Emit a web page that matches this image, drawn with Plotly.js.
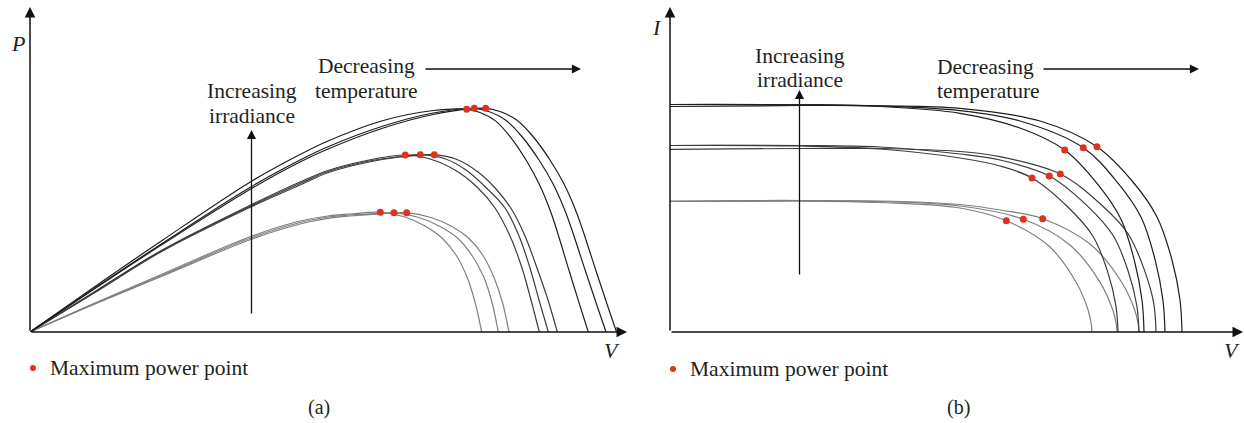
<!DOCTYPE html>
<html>
<head>
<meta charset="utf-8">
<script src="https://cdn.plot.ly/plotly-3.0.1.min.js"></script>
<style>html,body{margin:0;padding:0;background:#fff;}#chart{width:1244px;height:423px;}</style>
</head>
<body>
<div id="chart"></div>
<script>
// ---------- Panel (a): P–V curves (arbitrary units) ----------
// High irradiance (hot, mid, cold)
const pvV_hi_hot  = [0, 65, 131.3, 220.7, 270, 298, 353.3, 403.3, 436.7, 450, 465.5, 480.7, 496.5, 509.5, 521.3, 539.9, 550.4, 558.3];
const pvP_hi_hot  = [0, 45.5, 91, 150.3, 177.5, 191, 211.5, 221.5, 222.7, 219.5, 211.1, 194.6, 171.2, 147.3, 118.5, 58.7, 24.9, 0];
const pvV_hi_mid  = [0, 65, 131.3, 220.7, 270, 298, 353.3, 403.3, 444.3, 458.7, 475.5, 491.9, 509, 523.1, 535.9, 556.1, 567.5, 576];
const pvP_hi_mid  = [0, 44, 88, 145, 172, 185.3, 206, 219, 223.7, 220.5, 212, 195.5, 172, 148, 119, 59, 25, 0];
const pvV_hi_cold = [0, 65, 131.3, 220.7, 270, 298, 353.3, 403.3, 455.7, 470, 486.7, 503, 520, 534, 546.7, 566.7, 578, 586.5];
const pvP_hi_cold = [0, 43.5, 87, 143, 170, 183, 204, 217.5, 223.7, 220.5, 212, 195.5, 172, 148, 119, 59, 25, 0];
// Medium irradiance
const pvV_md_hot  = [0, 65, 131.3, 220.7, 270, 298, 336.7, 375.3, 400, 425, 447, 465, 480, 492, 501, 509.3];
const pvP_md_hot  = [0, 40.5, 81.5, 127, 150, 161.5, 171.5, 177, 173, 162, 145, 124, 96, 64, 32, 0];
const pvV_md_mid  = [0, 65, 131.3, 220.7, 270, 298, 336.7, 370, 390.3, 415, 436, 456, 475, 489, 500, 509, 518.3];
const pvP_md_mid  = [0, 40, 81, 126, 148.5, 160.5, 170.5, 175.5, 177.3, 173.3, 162, 144.5, 124, 96, 64, 32, 0];
const pvV_md_cold = [0, 65, 131.3, 220.7, 270, 298, 336.7, 370, 404.3, 427, 448, 466, 482, 495, 507, 518, 527.3];
const pvP_md_cold = [0, 39.5, 80.3, 125, 147, 159.3, 169.5, 175, 177.3, 172.5, 160, 143, 122, 96, 64, 32, 0];
// Low irradiance
const pvV_lo_hot  = [0, 65, 131.3, 220.7, 270, 298, 320, 350.3, 375, 395, 412, 426, 437, 445, 451.7];
const pvP_lo_hot  = [0, 29, 57.5, 95.5, 111, 116, 118, 119.7, 115, 106, 94, 77, 55, 30, 0];
const pvV_lo_mid  = [0, 65, 131.3, 220.7, 270, 298, 320, 350, 364, 389, 410, 428, 442, 454, 462, 468.3];
const pvP_lo_mid  = [0, 28.5, 56.5, 94, 109.5, 115, 117, 118.7, 119.3, 114.5, 105.5, 93.5, 76.5, 54.5, 29.5, 0];
const pvV_lo_cold = [0, 65, 131.3, 220.7, 270, 298, 320, 350, 376.7, 401, 422, 439, 453, 464, 472.5, 479];
const pvP_lo_cold = [0, 28, 55.5, 92.5, 108, 113.7, 116, 118.2, 119.3, 114.5, 105.5, 93.5, 76.5, 54.5, 29.5, 0];
// Maximum power points (a)
const mppA_V = [436.7, 444.3, 455.7, 375.3, 390.3, 404.3, 350.3, 364, 376.7];
const mppA_P = [222.7, 223.7, 223.7, 177, 177.3, 177.3, 119.7, 119.3, 119.3];

// ---------- Panel (b): I–V curves ----------
const ivV_hi_hot  = [0, 130, 210, 290, 350, 394.7, 428, 451, 464.5, 472.1, 474];
const ivI_hi_hot  = [227.5, 227.2, 225.5, 218.7, 204, 182, 147.4, 112.8, 71, 31, 0];
const ivV_hi_mid  = [0, 130, 210, 290, 350, 413.3, 447.6, 471.3, 485.2, 493, 495];
const ivI_hi_mid  = [227.5, 227.2, 226, 221.3, 211, 184.3, 149.3, 114.3, 71.9, 31.3, 0];
const ivV_hi_cold = [0, 130, 210, 290, 370, 427, 463, 487, 502, 510, 512];
const ivI_hi_cold = [225.5, 226.5, 226.2, 223.7, 211, 185.3, 150, 115, 72, 32, 0];
const ivV_md_hot  = [0, 130, 210, 290, 330, 362, 398.1, 423.1, 437.7, 445.9, 448];
const ivI_md_hot  = [186.5, 186, 183, 174, 166, 154, 124.7, 95.5, 60.1, 26.2, 0];
const ivV_md_mid  = [0, 130, 210, 290, 330, 379.3, 417, 443, 458.2, 466.8, 469];
const ivI_md_mid  = [186.5, 186.5, 185, 178, 172, 156, 126.4, 96.7, 60.8, 26.5, 0];
const ivV_md_cold = [0, 130, 210, 290, 330, 390.3, 430.5, 458.2, 474.5, 483.7, 486];
const ivI_md_cold = [182.7, 183.5, 183.5, 180.5, 175.3, 158, 128, 98, 61.6, 28.9, 0];
const ivV_lo_hot  = [0, 130, 210, 290, 336.3, 379.2, 406.6, 418, 421.1, 422];
const ivI_lo_hot  = [130.5, 131, 129.5, 124, 111.3, 85.7, 49, 22.3, 9, 0];
const ivV_lo_mid  = [0, 130, 210, 290, 353.3, 400.2, 430.1, 442.6, 446.1, 447];
const ivI_lo_mid  = [131, 131.5, 130.5, 126, 112.7, 86.8, 49.6, 22.5, 9, 0];
const ivV_lo_cold = [0, 130, 210, 290, 330, 372.7, 420.9, 451.7, 464.5, 468, 469];
const ivI_lo_cold = [130.5, 131, 131, 127.5, 122, 113.3, 87.2, 49.8, 22.7, 9, 0];
// Maximum power points (b)
const mppB_V = [394.7, 413.3, 427, 362, 379.3, 390.3, 336.3, 353.3, 372.7];
const mppB_I = [182, 184.3, 185.3, 154, 156, 158, 111.3, 112.7, 113.3];

// Text labels
const legendText = 'Maximum power point';
const irrLabel = ['Increasing', 'irradiance'];
const tempLabel = ['Decreasing', 'temperature'];

// ---------- styling ----------
const W = 1244, H = 423;
const px = x => x / W;
const py = y => 1 - y / H;
const colHi = '#1e1e1e', colMd = '#3c3c3c', colLo = '#7f7f7f';
const RED = '#e2301f';
const FONT = 'Liberation Serif, Times New Roman, serif';

function curve(x, y, color, xa, ya) {
  return {x: x, y: y, xaxis: xa, yaxis: ya, type: 'scatter', mode: 'lines',
    line: {color: color, width: 1.2, shape: 'spline', smoothing: 1},
    hoverinfo: 'skip', showlegend: false};
}
function dots(x, y, xa, ya) {
  return {x: x, y: y, xaxis: xa, yaxis: ya, type: 'scatter', mode: 'markers',
    marker: {color: RED, size: 7}, cliponaxis: false, hoverinfo: 'skip', showlegend: false};
}

const traces = [
  curve(pvV_lo_hot, pvP_lo_hot, colLo, 'x', 'y'),
  curve(pvV_lo_mid, pvP_lo_mid, colLo, 'x', 'y'),
  curve(pvV_lo_cold, pvP_lo_cold, colLo, 'x', 'y'),
  curve(pvV_md_hot, pvP_md_hot, colMd, 'x', 'y'),
  curve(pvV_md_mid, pvP_md_mid, colMd, 'x', 'y'),
  curve(pvV_md_cold, pvP_md_cold, colMd, 'x', 'y'),
  curve(pvV_hi_hot, pvP_hi_hot, colHi, 'x', 'y'),
  curve(pvV_hi_mid, pvP_hi_mid, colHi, 'x', 'y'),
  curve(pvV_hi_cold, pvP_hi_cold, colHi, 'x', 'y'),
  dots(mppA_V, mppA_P, 'x', 'y'),
  curve(ivV_lo_hot, ivI_lo_hot, colLo, 'x2', 'y2'),
  curve(ivV_lo_mid, ivI_lo_mid, colLo, 'x2', 'y2'),
  curve(ivV_lo_cold, ivI_lo_cold, colLo, 'x2', 'y2'),
  curve(ivV_md_hot, ivI_md_hot, colMd, 'x2', 'y2'),
  curve(ivV_md_mid, ivI_md_mid, colMd, 'x2', 'y2'),
  curve(ivV_md_cold, ivI_md_cold, colMd, 'x2', 'y2'),
  curve(ivV_hi_hot, ivI_hi_hot, colHi, 'x2', 'y2'),
  curve(ivV_hi_mid, ivI_hi_mid, colHi, 'x2', 'y2'),
  curve(ivV_hi_cold, ivI_hi_cold, colHi, 'x2', 'y2'),
  dots(mppB_V, mppB_I, 'x2', 'y2')
];

function arrow(x0, y0, x1, y1, w) {
  return {x: px(x1), y: py(y1), xref: 'paper', yref: 'paper',
    ax: x0 - x1, ay: y0 - y1, axref: 'pixel', ayref: 'pixel',
    text: '', showarrow: true, arrowhead: 2, arrowsize: 1.4, arrowwidth: w || 1.3,
    arrowcolor: '#111', standoff: 0, startstandoff: 0};
}
function label(x, y, text, opts) {
  opts = opts || {};
  return {x: px(x), y: py(y), xref: 'paper', yref: 'paper', text: text, showarrow: false,
    xanchor: opts.xanchor || 'center', yanchor: 'middle',
    font: {family: FONT, size: opts.size || 21.5, color: '#231f20'}};
}

const annotations = [
  // axes (a)
  arrow(30, 332, 30, 7, 1.5),
  arrow(30, 332, 627, 332, 1.5),
  // axes (b)
  arrow(670, 332, 670, 7, 1.5),
  arrow(670, 332, 1243, 332, 1.5),
  // irradiance arrows
  arrow(251.5, 315, 251.5, 130),
  arrow(799.5, 276, 799.5, 90),
  // temperature arrows
  arrow(424, 69, 581, 69),
  arrow(1042, 69, 1199, 69),
  // texts (a)
  label(251.5, 91, irrLabel[0]),
  label(251.5, 116, irrLabel[1]),
  label(366, 66, tempLabel[0]),
  label(366, 91, tempLabel[1]),
  label(18, 43, '<i>P</i>', {size: 22}),
  label(612, 350, '<i>V</i>', {size: 22}),
  label(48, 368, legendText, {xanchor: 'left'}),
  label(319, 407, '(a)', {size: 20}),
  // texts (b)
  label(800, 56, irrLabel[0]),
  label(800, 80, irrLabel[1]),
  label(935, 67, tempLabel[0], {xanchor: 'left'}),
  label(935, 91, tempLabel[1], {xanchor: 'left'}),
  label(657, 28, '<i>I</i>', {size: 22}),
  label(1232, 350, '<i>V</i>', {size: 22}),
  label(688, 369, legendText, {xanchor: 'left'}),
  label(958, 407, '(b)', {size: 20})
];

const shapes = [
  {type: 'circle', xref: 'paper', yref: 'paper', x0: px(30), x1: px(36), y0: py(371), y1: py(365),
   fillcolor: RED, line: {width: 0}},
  {type: 'circle', xref: 'paper', yref: 'paper', x0: px(670), x1: px(676), y0: py(372), y1: py(366),
   fillcolor: RED, line: {width: 0}}
];

const hidden = {visible: false, showgrid: false, zeroline: false, fixedrange: true};
const layout = {
  width: W, height: H, autosize: false,
  margin: {l: 0, r: 0, t: 0, b: 0, pad: 0},
  paper_bgcolor: '#ffffff', plot_bgcolor: 'rgba(0,0,0,0)',
  showlegend: false,
  xaxis: Object.assign({}, hidden, {domain: [px(30), px(626)], range: [0, 596], anchor: 'y'}),
  yaxis: Object.assign({}, hidden, {domain: [py(332), py(8)], range: [0, 324], anchor: 'x'}),
  xaxis2: Object.assign({}, hidden, {domain: [px(670), px(1240)], range: [0, 570], anchor: 'y2'}),
  yaxis2: Object.assign({}, hidden, {domain: [py(332), py(8)], range: [0, 324], anchor: 'x2'}),
  annotations: annotations,
  shapes: shapes
};

Plotly.newPlot('chart', traces, layout, {staticPlot: true, displayModeBar: false});
</script>
</body>
</html>
